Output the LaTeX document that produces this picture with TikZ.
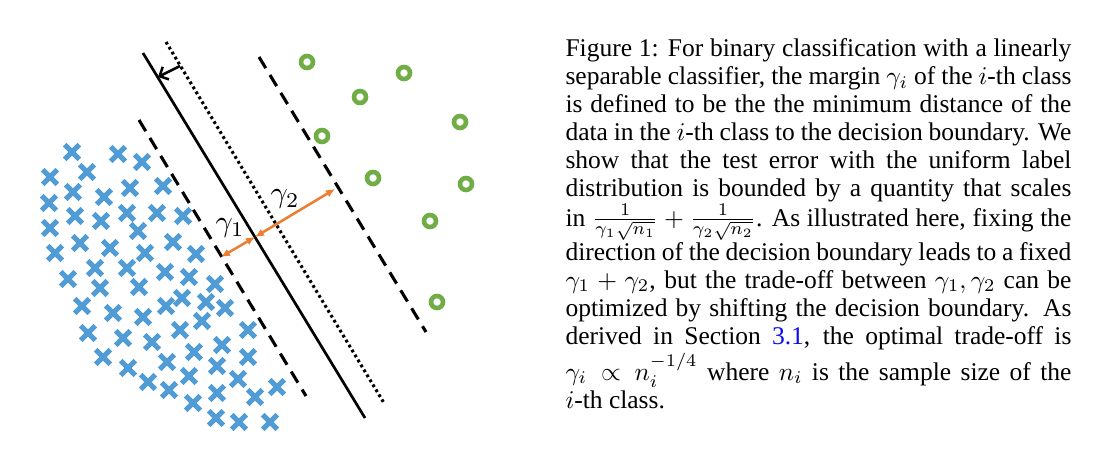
\documentclass[tikz,border=0pt]{standalone}
\usepackage{fontspec}
\setmainfont{Liberation Serif}
\usetikzlibrary{arrows.meta}
\definecolor{xblue}{RGB}{82,156,214}
\definecolor{ogreen}{RGB}{112,173,71}
\definecolor{morange}{RGB}{237,125,49}
\definecolor{linkblue}{RGB}{10,10,240}
\newcommand{\capline}[1]{\makebox[198.4pt][s]{#1}}
\begin{document}
\begin{tikzpicture}[x=1pt,y=-1pt,
  crossmark/.style={draw=xblue,line width=5pt},
  ringmark/.style={draw=ogreen,line width=4.6pt},
  boundary/.style={line width=2.7pt},
  dottedline/.style={line width=3.1pt,dash pattern=on 2.8pt off 3pt},
  dashedline/.style={line width=3.1pt,dash pattern=on 13pt off 8pt},
  shiftarrow/.style={line width=2.5pt,-{Straight Barb[length=7pt,width=14pt]}},
  marginarrow/.style={draw=morange,line width=2.5pt,{Latex[length=9pt,width=8pt]}-{Latex[length=9pt,width=8pt]}},
  glabel/.style={inner sep=0pt,scale=3.0},
  capstyle/.style={anchor=base west,inner sep=0pt,scale=2.55}]
\useasboundingbox (0,0) rectangle (1097,466);
% crosses
\foreach \x/\y in {72/152,118/154,142/162,87/172,50/177,73/192,130/188,163/186,104/197,
  49/203,75/216,101/221,127/213,157/213,183/216,50/228,138/231,173/242,80/243,110/248,
  145/253,196/254,55/253,95/268,127/268,165/272,189/277,215/284,68/279,100/288,139/287,
  182/298,166/306,206/302,225/308,82/306,113/313,143/317,202/321,180/330,248/330,88/333,
  123/338,152/342,194/352,222/345,103/357,167/362,217/366,248/357,128/368,189/376,238/379,
  148/382,169/390,217/393,255/397,277/387,193/403,216/418,239/422,270/422}
  \draw[crossmark,shift={(\x,\y)}] (-7.3,-7.3) -- (7.3,7.3) (-7.3,7.3) -- (7.3,-7.3);
% circles
\foreach \x/\y in {307/62,404/73,360/97,460/122,322/136,373/178,466/184,430/221,437/302}
  \draw[ringmark] (\x,\y) circle[radius=6pt];
% lines
\coordinate (s1) at (143,53);  \coordinate (s2) at (365,418);
\coordinate (d1) at (166,42);  \coordinate (d2) at (384,403);
\coordinate (l1) at (139,120); \coordinate (l2) at (306,396);
\coordinate (r1) at (259,57);  \coordinate (r2) at (426,332);
\draw[boundary] (s1) -- (s2);
\draw[dottedline] (d1) -- (d2);
\draw[dashedline] (l1) -- (l2);
\draw[dashedline] (r1) -- (r2);
% shift arrow
\coordinate (a1) at (180,66); \coordinate (a2) at (158,77);
\draw[shiftarrow] (a1) -- (a2);
% margin arrows
\coordinate (p1) at (221,257); \coordinate (p0) at (255,237); \coordinate (p2) at (335,189);
\draw[marginarrow] (p1) -- (p0);
\draw[marginarrow] (p0) -- (p2);
\node[glabel] (g1) at (230,228) {$\gamma_1$};
\node[glabel] (g2) at (285,199) {$\gamma_2$};
% caption
\node[capstyle] (t1) at (565,56.7) {\capline{Figure 1: For binary classification with a linearly}};
\node[capstyle] (t2) at (565,84.7) {\capline{separable classifier, the margin $\gamma_i$ of the $i$-th class}};
\node[capstyle] (t3) at (565,112.7) {\capline{is defined to be the the minimum distance of the}};
\node[capstyle] (t4) at (565,140.7) {\capline{data in the $i$-th class to the decision boundary. We}};
\node[capstyle] (t5) at (565,168.7) {\capline{show that the test error with the uniform label}};
\node[capstyle] (t6) at (565,196.5) {\capline{distribution is bounded by a quantity that scales}};
\node[capstyle] (t7) at (565,226) {\capline{in $\frac{1}{\gamma_1\sqrt{n_1}}+\frac{1}{\gamma_2\sqrt{n_2}}$. As illustrated here, fixing the}};
\node[capstyle] (t8) at (565,260) {\capline{direction of the decision boundary leads to a fixed}};
\node[capstyle] (t9) at (565,288) {\capline{$\gamma_1+\gamma_2$, but the trade-off between $\gamma_1,\gamma_2$ can be}};
\node[capstyle] (t10) at (565,316) {\capline{optimized by shifting the decision boundary. As}};
\node[capstyle] (t11) at (565,344) {\capline{derived in Section \textcolor{linkblue}{3.1}, the optimal trade-off is}};
\node[capstyle] (t12) at (565,380) {\capline{$\gamma_i \propto n_i^{-1/4}$ where $n_i$ is the sample size of the}};
\node[capstyle] (t13) at (565,408) {$i$-th class.};
\end{tikzpicture}
\end{document}
